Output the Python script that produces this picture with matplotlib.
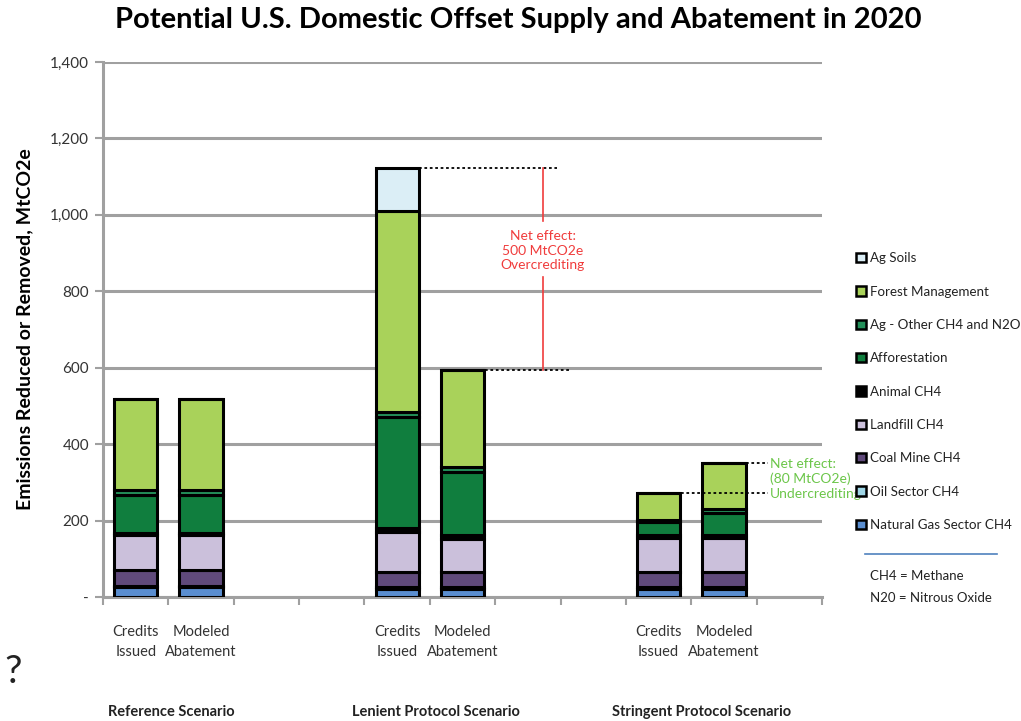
import matplotlib
matplotlib.use("Agg")
import matplotlib.pyplot as plt
from matplotlib.patches import Patch
from matplotlib.lines import Line2D
from matplotlib.ticker import FuncFormatter
import numpy as np

plt.rcParams['font.family'] = ['Lato', 'DejaVu Sans']

# ---------------- data ----------------
bar_positions = [0, 1, 4, 5, 8, 9]
bar_labels = ["Credits\nIssued", "Modeled\nAbatement"] * 3
groups = ["Reference Scenario", "Lenient Protocol Scenario", "Stringent Protocol Scenario"]

categories = ["Natural Gas Sector CH4", "Oil Sector CH4", "Coal Mine CH4", "Landfill CH4",
              "Animal CH4", "Afforestation", "Ag - Other CH4 and N2O", "Forest Management", "Ag Soils"]
natural_gas   = [25, 25, 22, 22, 22, 22]
oil_sector    = [5, 5, 5, 5, 5, 5]
coal_mine     = [40, 40, 38, 38, 38, 38]
landfill      = [92, 92, 105, 88, 90, 90]
animal        = [5, 5, 10, 8, 7, 7]
afforestation = [100, 100, 290, 165, 35, 57]
ag_other      = [12, 12, 15, 15, 5, 10]
forest_mgmt   = [238, 238, 525, 253, 70, 121]
ag_soils      = [0, 0, 112, 0, 0, 0]
series = [natural_gas, oil_sector, coal_mine, landfill, animal,
          afforestation, ag_other, forest_mgmt, ag_soils]
colors = ["#5a8ed0", "#9fd6e6", "#604a7b", "#cbc0db", "#000000",
          "#107e3e", "#23905a", "#a9d25a", "#dbeef6"]

yticks = [0, 200, 400, 600, 800, 1000, 1200, 1400]

# ---------------- figure ----------------
fig = plt.figure(figsize=(10.21, 7.21), dpi=100)
ax = fig.add_axes([0.1009, 0.172, 0.7042, 0.742])

bottom = np.zeros(len(bar_positions))
for vals, col, name in zip(series, colors, categories):
    v = np.array(vals, dtype=float)
    ax.bar(bar_positions, v, width=0.66, bottom=bottom, color=col,
           edgecolor="black", linewidth=2.2, label=name, zorder=3)
    bottom += v
totals = bottom

ax.set_xlim(-0.5, 10.5)
ax.set_ylim(0, 1400)
ax.set_yticks(yticks)
ax.yaxis.set_major_formatter(FuncFormatter(lambda v, p: "-" if v == 0 else f"{int(v):,}"))
ax.grid(axis="y", color="#a0a0a0", linewidth=2.2, zorder=0)
ax.set_axisbelow(True)
for s in ["top", "right"]:
    ax.spines[s].set_visible(False)
for s in ["left", "bottom"]:
    ax.spines[s].set_color("#a0a0a0")
    ax.spines[s].set_linewidth(2.2)

ax.set_xticks(np.arange(-0.5, 11.0, 1.0))
ax.set_xticklabels([])
ax.set_xticks(bar_positions, minor=True)
ax.set_xticklabels(bar_labels, minor=True, fontsize=10.5, color="#333333", linespacing=1.55)
ax.tick_params(axis="x", which="major", length=6, width=1.5, color="#a0a0a0", direction="out")
ax.tick_params(axis="x", which="minor", length=0, pad=20)
ax.tick_params(axis="y", length=6, width=1.5, color="#a0a0a0", labelsize=11, labelcolor="#333333", pad=4)

ax.set_ylabel("Emissions Reduced or Removed, MtCO2e", fontsize=14, fontweight="bold", labelpad=12)

fig.text(0.508, 0.972, "Potential U.S. Domestic Offset Supply and Abatement in 2020",
         ha="center", va="center", fontsize=21, fontweight="bold")

# group labels
for gx, g in zip([0.55, 4.6, 8.65], groups):
    ax.text(gx, -0.215, g, transform=ax.get_xaxis_transform(), ha="center", va="center",
            fontsize=10.5, fontweight="bold", color="#222222")

fig.text(0.013, 1 - 672 / 721, "?", fontsize=28, ha="center", va="center", color="#222222")

# lenient annotation
red = "#f03c3c"
ax.plot([4.34, 6.45], [totals[2], totals[2]], ls=(0, (1.5, 1.5)), color="black", lw=1.3, zorder=4)
ax.plot([5.34, 6.64], [totals[3], totals[3]], ls=(0, (1.5, 1.5)), color="black", lw=1.3, zorder=4)
ax.plot([6.23, 6.23], [totals[2], 985], color=red, lw=1.2, zorder=4)
ax.plot([6.23, 6.23], [838, totals[3]], color=red, lw=1.2, zorder=4)
ax.text(6.23, 906, "Net effect:\n500 MtCO2e\nOvercrediting", ha="center", va="center",
        color=red, fontsize=10, linespacing=1.25, zorder=5)

# stringent annotation
green = "#6cc64a"
ax.plot([9.34, 9.67], [totals[5], totals[5]], ls=(0, (1.5, 1.5)), color="black", lw=1.3, zorder=4)
ax.plot([8.34, 9.67], [totals[4], totals[4]], ls=(0, (1.5, 1.5)), color="black", lw=1.3, zorder=4)
ax.text(9.71, 309, "Net effect:\n(80 MtCO2e)\nUndercrediting", ha="left", va="center",
        color=green, fontsize=10, linespacing=1.25, zorder=5, clip_on=False)

# legend
handles = [Patch(facecolor=c, edgecolor="black", linewidth=1.8) for c in colors][::-1]
labels = categories[::-1]
leg = fig.legend(handles, labels, loc="upper left", bbox_to_anchor=(851 / 1021, 1 - 247 / 721),
                 frameon=False, fontsize=9.6, handlelength=0.7, handleheight=0.7,
                 handletextpad=0.3, labelspacing=1.6, borderaxespad=0)
for t in leg.get_texts():
    t.set_color("#222222")

fig.add_artist(Line2D([865 / 1021, 997 / 1021], [1 - 554 / 721, 1 - 554 / 721],
                      color="#4f81bd", lw=1.2))
fig.text(870 / 1021, 1 - 576 / 721, "CH4 = Methane", fontsize=9.5, va="center", color="#222222")
fig.text(870 / 1021, 1 - 598 / 721, "N20 = Nitrous Oxide", fontsize=9.5, va="center", color="#222222")

fig.savefig("out.png", dpi=100)
